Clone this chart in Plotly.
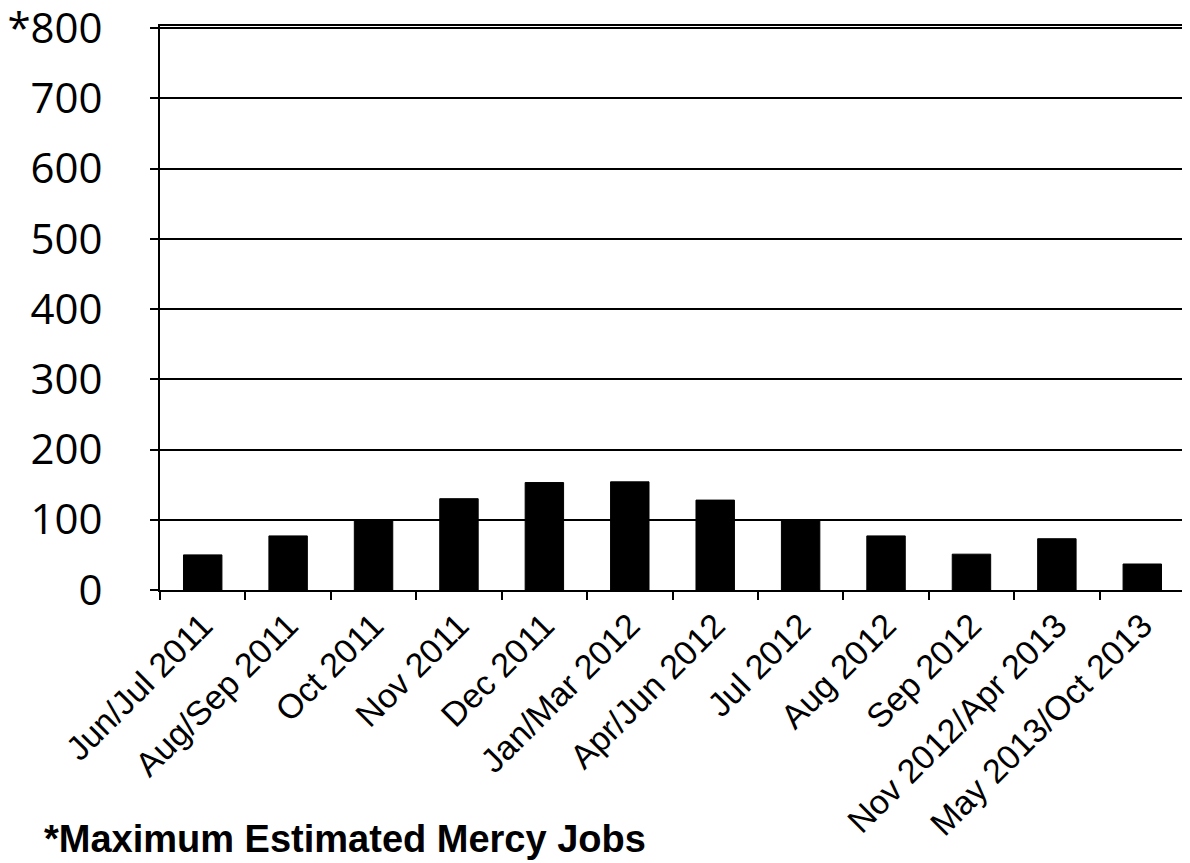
import plotly.graph_objects as go

categories = ["Jun/Jul 2011", "Aug/Sep 2011", "Oct 2011", "Nov 2011", "Dec 2011",
              "Jan/Mar 2012", "Apr/Jun 2012", "Jul 2012", "Aug 2012", "Sep 2012",
              "Nov 2012/Apr 2013", "May 2013/Oct 2013"]
values = [50, 77, 100, 130, 153, 154, 128, 100, 77, 51, 73, 37]
tick_vals = [0, 100, 200, 300, 400, 500, 600, 700, 800]
tick_text = ["0", "100", "200", "300", "400", "500", "600", "700", "*800"]

fig = go.Figure(go.Bar(x=categories, y=values, marker=dict(color="black", line=dict(color="black", width=1)),
                       width=0.45))

fig.update_layout(
    width=1182, height=855,
    margin=dict(l=152, r=5, t=18, b=273),
    plot_bgcolor="white", paper_bgcolor="white",
    showlegend=False,
    xaxis=dict(
        tickangle=-45, tickfont=dict(family="Liberation Sans, Arial", size=34, color="black"),
        showline=True, linecolor="black", linewidth=2, mirror=True,
        ticks="outside", tickson="boundaries", ticklen=8, tickcolor="black", tickwidth=2,
        showgrid=False, automargin=False,
    ),
    yaxis=dict(
        range=[0, 803], tickvals=tick_vals, ticktext=tick_text,
        tickfont=dict(family="Open Sans", size=42, color="black"),
        showline=True, linecolor="black", linewidth=2, mirror=True,
        showgrid=True, gridcolor="black", gridwidth=2,
        ticks="outside", ticklen=8, tickcolor="black", tickwidth=2,
        ticklabelstandoff=39, ticklabeloverflow="allow", zeroline=False, automargin=False,
    ),
    annotations=[dict(text="<b>*Maximum Estimated Mercy Jobs</b>", xref="paper", yref="paper",
                      x=-0.115, y=-0.441, xanchor="left", yanchor="middle", showarrow=False,
                      font=dict(family="Liberation Sans, Arial", size=38, color="black"))],
)

fig.write_html("out.html")
